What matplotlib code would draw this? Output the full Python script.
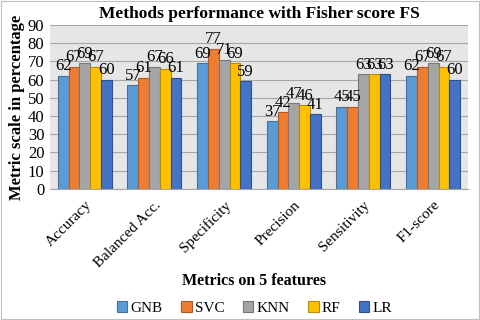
import numpy as np
import matplotlib.pyplot as plt

plt.rcParams['font.family'] = ['Liberation Serif', 'DejaVu Serif']

metrics = ['Accuracy', 'Balanced Acc.', 'Specificity', 'Precision', 'Sensitivity', 'F1-score']
models = ['GNB', 'SVC', 'KNN', 'RF', 'LR']
gnb = [62, 57, 69, 37, 45, 62]
svc = [67, 61, 77, 42, 45, 67]
knn = [69, 67, 71, 47, 63, 69]
rf = [67, 66, 69, 46, 63, 67]
lr = [60, 61, 59, 41, 63, 60]
colors = ['#5B9BD5', '#ED7D31', '#A5A5A5', '#FFC000', '#4472C4']
edges = ['#41719C', '#AE5A21', '#787878', '#BC8C00', '#2F528F']

fig = plt.figure(figsize=(4.8, 3.2), dpi=100)
ax = fig.add_axes([0.104, 0.41, 0.871, 0.512])
ax.set_facecolor('#E7E6E6')

x = np.arange(len(metrics))
w = 0.155
for i, vals in enumerate([gnb, svc, knn, rf, lr]):
    pos = x + (i - 2) * w
    bars = ax.bar(pos, vals, w, color=colors[i], edgecolor=edges[i], linewidth=0.8,
                  label=models[i], zorder=3)
    for b, v in zip(bars, vals):
        ax.text(b.get_x() + b.get_width() / 2, v + 0.8, str(v), ha='center', va='bottom',
                fontsize=12, zorder=4)

ax.set_ylim(0, 90)
ax.set_yticks(range(0, 91, 10))
ax.set_xlim(-0.5, len(metrics) - 0.5)
ax.set_xticks(x)
ax.set_xticklabels(metrics, rotation=45, ha='right', rotation_mode='anchor', fontsize=11)
ax.tick_params(axis='y', labelsize=12, length=0, pad=4)
ax.tick_params(axis='x', length=0, pad=7)
ax.grid(axis='y', color='#A6A6A6', linewidth=0.8, zorder=0)
for s in ['top', 'right', 'left']:
    ax.spines[s].set_visible(False)
ax.spines['bottom'].set_color('#A6A6A6')

ax.set_title('Methods performance with Fisher score FS', fontsize=12.5, fontweight='bold', pad=5)
ax.set_ylabel('Metric scale in percentage', fontsize=12, fontweight='bold', labelpad=2)
fig.text(0.53, 0.122, 'Metrics on 5 features', ha='center', va='center', fontsize=11.5,
         fontweight='bold')
fig.legend(loc='center', bbox_to_anchor=(0.53, 0.037), ncol=5, frameon=False,
           fontsize=11, handlelength=0.7, handleheight=0.7, handletextpad=0.2,
           columnspacing=1.2)

fig.patches.append(plt.Rectangle((0.002, 0.003), 0.995, 0.994, transform=fig.transFigure,
                                 fill=False, edgecolor='#BFBFBF', linewidth=0.8))
fig.savefig('out.png', dpi=100)
